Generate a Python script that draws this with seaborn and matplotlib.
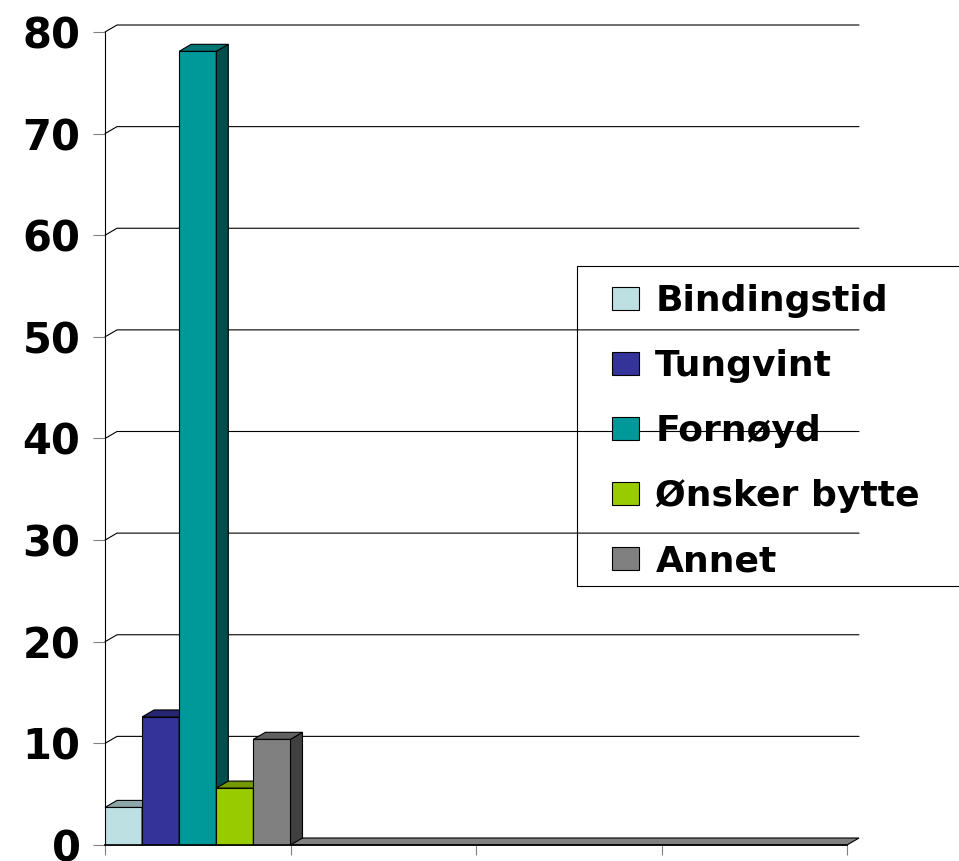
import pandas as pd
import numpy as np
import matplotlib.pyplot as plt
import seaborn as sns
from matplotlib.patches import Polygon, Rectangle

# Data
kategorier = ['1', '2', '3', '4']
serier = ['Bindingstid', 'Tungvint', 'Fornøyd', 'Ønsker bytte', 'Annet']
verdier = [3.7, 12.6, 78.1, 5.6, 10.4]
farger = ['#bde0e3', '#333399', '#009999', '#99cc00', '#808080']
y_ticks = [0, 10, 20, 30, 40, 50, 60, 70, 80]

df = pd.DataFrame({
    'kategori': [kategorier[0]] * len(serier),
    'serie': serier,
    'verdi': verdier,
})

sns.set_style('white')
plt.rcParams['font.family'] = ['DejaVu Sans']
plt.rcParams['text.color'] = 'black'

W, H = 959, 861
fig = plt.figure(figsize=(W / 100, H / 100), dpi=100)
ax = fig.add_axes([105 / W, 16 / H, 742 / W, 813 / H])

sns.barplot(data=df, x='kategori', y='verdi', hue='serie', order=kategorier,
            hue_order=serier, palette=farger, width=1, gap=0, saturation=1,
            edgecolor='black', linewidth=0.8, ax=ax)

ax.set_xlim(-0.5, 3.5)
ax.set_ylim(0, 80)

# 3D dybde (piksler -> dataenheter)
dx = 12 / (742 / 4)
dy = 7 / (813 / 80)

# gulv
gulv = Polygon([(-0.5, 0), (3.5, 0), (3.5 + dx, dy), (-0.5 + dx, dy)],
               closed=True, facecolor='#808080', edgecolor='black', lw=0.8,
               zorder=1, clip_on=False)
ax.add_patch(gulv)

# rutenett i bakre plan
for t in y_ticks[1:]:
    ax.plot([-0.5, -0.5 + dx, 3.5 + dx], [t, t + dy, t + dy], color='black',
            lw=0.8, zorder=0.5, clip_on=False)

# topp og side for hver stolpe
stolper = [p for p in ax.patches if p is not gulv and p.get_height() > 0]
stolper.sort(key=lambda p: p.get_x())
for i, p in enumerate(stolper):
    x0, w, h = p.get_x(), p.get_width(), p.get_height()
    c = np.array(p.get_facecolor()[:3])
    base = 3 + i
    p.set_zorder(base)
    topp = Polygon([(x0, h), (x0 + w, h), (x0 + w + dx, h + dy), (x0 + dx, h + dy)],
                   closed=True, facecolor=c * 0.75, edgecolor='black', lw=0.8,
                   zorder=base + 0.2, clip_on=False)
    side = Polygon([(x0 + w, 0), (x0 + w + dx, dy), (x0 + w + dx, h + dy), (x0 + w, h)],
                   closed=True, facecolor=c * 0.5, edgecolor='black', lw=0.8,
                   zorder=base + 0.1, clip_on=False)
    ax.add_patch(topp)
    ax.add_patch(side)

# akser
sns.despine(ax=ax, top=True, right=True)
ax.spines['left'].set_color('black')
ax.spines['left'].set_linewidth(0.8)
ax.spines['bottom'].set_color('black')
ax.spines['bottom'].set_linewidth(1.2)
ax.spines['bottom'].set_zorder(20)
ax.set_yticks(y_ticks)
ax.set_yticklabels([str(t) for t in y_ticks], fontsize=30, fontweight='bold')
ax.set_xticks([-0.5, 0.5, 1.5, 2.5, 3.5])
ax.set_xticklabels([''] * 5)
ax.tick_params(axis='y', which='major', direction='out', length=8.6, width=0.8,
               color='#808080', labelcolor='black', pad=9, left=True)
ax.tick_params(axis='x', which='major', direction='out', length=7, width=0.8,
               color='#808080', bottom=True)
ax.set_xlabel('')
ax.set_ylabel('')

# legende (rammen går ut over høyre kant, som i originalen)
sns.move_legend(ax, loc='upper left', bbox_to_anchor=(612 / W, 1 - 284 / H),
                bbox_transform=fig.transFigure, title=None, frameon=False,
                prop={'weight': 'bold', 'size': 26},
                handlelength=0.75, handleheight=0.6, handletextpad=0.45,
                labelspacing=0.86, borderpad=0, borderaxespad=0)
leg = ax.get_legend()
leg.set_zorder(30)
for txt in leg.get_texts():
    txt.set_color('black')
ramme = Rectangle((577 / W, 1 - 586 / H), 400 / W, 320 / H,
                  transform=fig.transFigure, facecolor='none',
                  edgecolor='black', lw=0.8, zorder=30)
fig.patches.append(ramme)

plt.savefig('out.png', dpi=100)
